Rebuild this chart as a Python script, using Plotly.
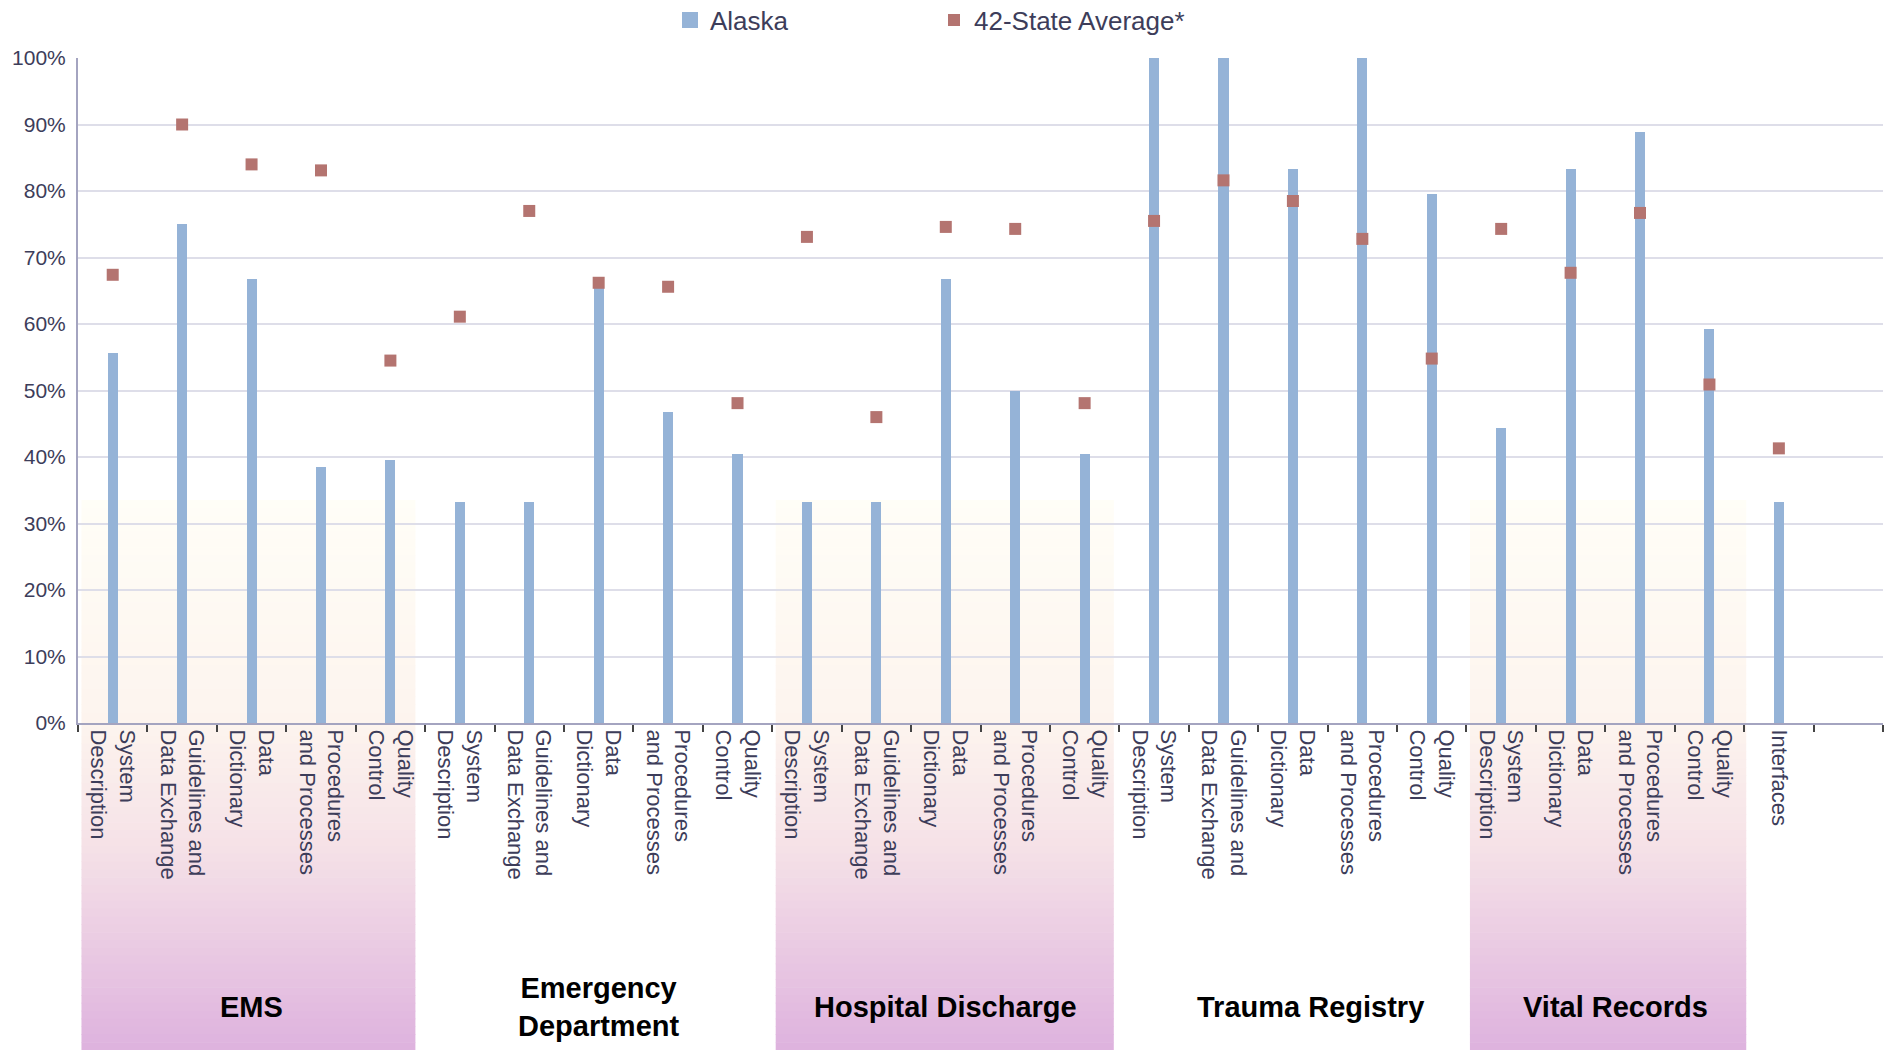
import plotly.graph_objects as go

# ---------------- data ----------------
groups = ["EMS", "Emergency<br>Department", "Hospital Discharge", "Trauma Registry", "Vital Records"]
group_sizes = [5, 5, 5, 5, 4]
shaded_groups = [0, 2, 4]

categories = [
    "System<br>Description", "Guidelines and<br>Data Exchange", "Data<br>Dictionary", "Procedures<br>and Processes", "Quality<br>Control",
    "System<br>Description", "Guidelines and<br>Data Exchange", "Data<br>Dictionary", "Procedures<br>and Processes", "Quality<br>Control",
    "System<br>Description", "Guidelines and<br>Data Exchange", "Data<br>Dictionary", "Procedures<br>and Processes", "Quality<br>Control",
    "System<br>Description", "Guidelines and<br>Data Exchange", "Data<br>Dictionary", "Procedures<br>and Processes", "Quality<br>Control",
    "System<br>Description", "Data<br>Dictionary", "Procedures<br>and Processes", "Quality<br>Control",
    "Interfaces",
]

alaska = [55.6, 75.0, 66.7, 38.5, 39.6,
          33.3, 33.3, 65.4, 46.7, 40.5,
          33.3, 33.3, 66.7, 50.0, 40.5,
          100.0, 100.0, 83.3, 100.0, 79.6,
          44.4, 83.3, 88.9, 59.3,
          33.3]

state_avg = [67.4, 90.0, 84.0, 83.1, 54.5,
             61.1, 77.0, 66.2, 65.6, 48.1,
             73.1, 46.0, 74.6, 74.3, 48.1,
             75.5, 81.6, 78.5, 72.8, 54.8,
             74.3, 67.7, 76.7, 50.9,
             41.3]

y_ticks = [0, 10, 20, 30, 40, 50, 60, 70, 80, 90, 100]
y_ticktext = [f"{v}%" for v in y_ticks]

# ---------------- figure ----------------
W, H = 1887, 1050
ml, mr, mt, mb = 78, 4, 58, 327
plot_h = H - mt - mb
n_slots = len(categories) + 1  # one empty slot at the end

x = list(range(len(categories)))
text_col = "#3d3d5a"
bar_col = "#95b3d7"
avg_col = "#b47470"

fig = go.Figure()
fig.add_trace(go.Bar(
    x=x, y=alaska, name="Alaska", width=0.145, showlegend=False,
    marker=dict(color=bar_col, line=dict(width=0)),
))
# legend entry for the bars (larger square swatch, like the original)
fig.add_trace(go.Scatter(
    x=[None], y=[None], name="Alaska", mode="markers",
    marker=dict(symbol="square", size=18, color=bar_col, line=dict(width=0)),
))
fig.add_trace(go.Scatter(
    x=x, y=state_avg, name="42-State Average*", mode="markers",
    marker=dict(symbol="square", size=12, color=avg_col, line=dict(width=0)),
))

# gradient panels behind the shaded groups
def lerp(c1, c2, t):
    return tuple(int(round(a + (b - a) * t)) for a, b in zip(c1, c2))

stops = [(500, (255, 254, 247)), (723, (253, 244, 238)), (850, (245, 225, 231)), (1050, (222, 178, 222))]

def color_at(py):
    for (p1, c1), (p2, c2) in zip(stops[:-1], stops[1:]):
        if py <= p2:
            t = max(0.0, (py - p1) / (p2 - p1))
            return lerp(c1, c2, t)
    return stops[-1][1]

def to_paper(py):
    return (H - mb - py) / plot_h

shapes = []
starts = []
s = 0
for g in group_sizes:
    starts.append(s)
    s += g
panel_right_adj = {0: -0.14, 2: -0.08, 4: 0.03}
nb = 70
top_py, bot_py = 500, 1050
for gi in shaded_groups:
    i0 = starts[gi]
    i1 = i0 + group_sizes[gi] - 1
    x0 = i0 - 0.5 + 0.05
    x1 = i1 + 0.5 + panel_right_adj[gi]
    for k in range(nb):
        pa = top_py + (bot_py - top_py) * k / nb
        pb = top_py + (bot_py - top_py) * (k + 1) / nb
        c = color_at((pa + pb) / 2)
        shapes.append(dict(
            type="rect", xref="x", yref="paper", x0=x0, x1=x1,
            y0=to_paper(pb) - 0.001, y1=to_paper(pa),
            fillcolor=f"rgb{c}", line=dict(width=0), layer="below",
        ))

annotations = []
for gi, name in enumerate(groups):
    i0 = starts[gi]
    cx = i0 + (group_sizes[gi] - 1) / 2
    if gi == 3:
        cx += 0.25
    if gi == 4:
        cx += 0.15
    annotations.append(dict(
        x=cx, y=to_paper(1007), xref="x", yref="paper", text=f"<b>{name}</b>",
        showarrow=False, xanchor="center", yanchor="middle",
        font=dict(family="Liberation Sans Narrow, Arial Narrow, Liberation Sans, Arial", size=29, color="#000000"),
    ))

fig.update_layout(
    width=W, height=H,
    margin=dict(l=ml, r=mr, t=mt, b=mb, pad=0, autoexpand=False),
    paper_bgcolor="white", plot_bgcolor="rgba(0,0,0,0)",
    font=dict(family="Liberation Sans, Arial, sans-serif", color=text_col),
    showlegend=True,
    legend=dict(
        orientation="h", x=(670 - ml) / (W - ml - mr), xanchor="left",
        yref="container", y=1 - 20 / H, yanchor="middle",
        font=dict(size=26, color=text_col),
        entrywidth=219, entrywidthmode="pixels",
        bgcolor="rgba(0,0,0,0)", itemsizing="trace",
    ),
    shapes=shapes,
    annotations=annotations,
    bargap=0,
)
fig.update_xaxes(
    range=[-0.5, n_slots - 0.5], tickmode="array", tickvals=x, ticktext=categories,
    tickangle=90, ticks="", tickfont=dict(size=22, color=text_col),
    showgrid=False, zeroline=False,
    showline=True, linecolor="#a4a4c0", linewidth=2,
    minor=dict(tickmode="linear", tick0=-0.5, dtick=1, ticks="outside", ticklen=7, tickwidth=2, tickcolor="#444444", showgrid=False),
    fixedrange=True,
)
fig.update_yaxes(
    range=[0, 100], tickmode="array", tickvals=y_ticks, ticktext=y_ticktext,
    tickfont=dict(size=21, color=text_col), ticks="", ticklen=0, ticklabelstandoff=6,
    showgrid=True, gridcolor="#dedee9", gridwidth=1.5, zeroline=False,
    showline=True, linecolor="#a4a4c0", linewidth=2,
    fixedrange=True,
)

fig.write_html("out.html", config=dict(displayModeBar=False),
               post_script="document.body.style.margin='0';document.body.style.overflow='hidden';")
